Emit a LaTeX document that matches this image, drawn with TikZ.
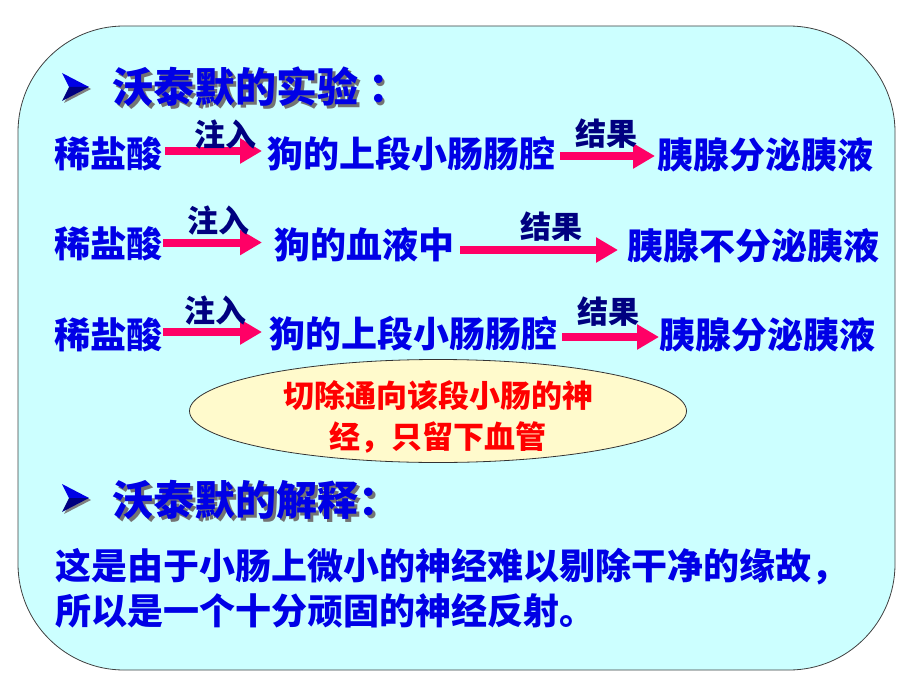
\documentclass[tikz,border=0pt]{standalone}
\usepackage{fontspec}
\setmainfont{Noto Sans CJK SC}
\usetikzlibrary{arrows.meta,shapes.geometric}

\definecolor{boxcyan}{HTML}{CCFFFF}
\definecolor{txtblue}{HTML}{0000E6}
\definecolor{lblnavy}{HTML}{000080}
\definecolor{arrowpink}{HTML}{FF0066}
\definecolor{ovalyellow}{HTML}{FFFACC}
\definecolor{notered}{HTML}{FF0000}

% heading text with a dark drop shadow
\newcommand{\shadowed}[1]{\makebox[0pt][l]{\hspace{2.5pt}\raisebox{-3pt}{\textcolor{black!55}{#1}}}#1}

\tikzset{
    txt/.style={font=\fontsize{36}{43}\selectfont\bfseries, text=txtblue, inner sep=0pt,
        text height=31.7pt, text depth=4.3pt, anchor=west},
    head/.style={font=\fontsize{41}{49}\selectfont\bfseries, text=txtblue, inner sep=0pt,
        text height=36.1pt, text depth=4.9pt, anchor=west},
    lbl/.style={font=\fontsize{31}{37}\selectfont\bfseries, text=lblnavy, inner sep=0pt,
        text height=27.3pt, text depth=3.7pt},
    flow/.style={arrowpink, line width=8pt, -{Triangle[length=22pt,width=24pt]}},
    oval/.style={ellipse, draw=black!80, line width=0.8pt, fill=ovalyellow,
        minimum width=497pt, minimum height=103pt, inner sep=0pt},
    notetxt/.style={font=\fontsize{31}{41}\selectfont\bfseries, text=notered,
        align=center, inner sep=0pt}
}

\begin{document}
\begin{tikzpicture}[x=1pt, y=-1pt]
    \useasboundingbox (0,0) rectangle (920,690);

    % panel
    \draw[draw=black!75, line width=0.8pt, fill=boxcyan, rounded corners=106pt] (18,26) rectangle (895,670);

    % bullets
    \foreach \by in {87, 498} {
        \fill[black!50] (64,\by-12) -- (91,\by+2) -- (64,\by+16) -- (71,\by+2) -- cycle;
        \fill[txtblue] (62,\by-14) -- (89,\by) -- (69,\by) -- cycle;
        \fill[lblnavy] (69,\by) -- (89,\by) -- (62,\by+14) -- cycle;
    }

    % headings
    \node[head] (exp) at (112.5,87) {\shadowed{沃泰默的实验 ：}};
    \node[head] (why) at (112.5,500) {\shadowed{沃泰默的解释：}};

    % row 1
    \node[txt] (acid1) at (54,154) {稀盐酸};
    \node[txt] (gut1) at (267,154) {狗的上段小肠肠腔};
    \node[txt] (res1) at (657,155) {胰腺分泌胰液};
    \draw[flow, shorten <=3pt, shorten >=5pt] ([yshift=3pt]acid1.east) -- ([yshift=3pt]gut1.west)
        node[lbl, pos=0.6, yshift=16pt] (inj1) {注入};
    \draw[flow, shorten <=5pt, shorten >=2pt] ([yshift=-2pt]gut1.east) -- ([yshift=-1pt]res1.west)
        node[lbl, midway, yshift=22pt] (out1) {结果};

    % row 2
    \node[txt] (acid2) at (54,244) {稀盐酸};
    \node[txt] (blood2) at (274,245) {狗的血液中};
    \node[txt] (res2) at (627,246) {胰腺不分泌胰液};
    \draw[flow, shorten <=1pt, shorten >=12pt] ([yshift=1.5pt]acid2.east) -- ([yshift=2.5pt]blood2.west)
        node[lbl, midway, yshift=21.5pt] (inj2) {注入};
    \draw[flow, shorten <=6pt, shorten >=9pt] ([yshift=-5pt]blood2.east) -- ([yshift=-4pt]res2.west)
        node[lbl, pos=0.56, yshift=23pt] (out2) {结果};

    % row 3
    \node[txt] (acid3) at (54,335) {稀盐酸};
    \node[txt] (gut3) at (269,334) {狗的上段小肠肠腔};
    \node[txt] (res3) at (659,335) {胰腺分泌胰液};
    \draw[flow, shorten <=1pt, shorten >=7pt] ([yshift=3pt]acid3.east) -- ([yshift=2pt]gut3.west)
        node[lbl, midway, yshift=21pt] (inj3) {注入};
    \draw[flow, shorten <=5pt, shorten >=0pt] ([yshift=-3pt]gut3.east) -- ([yshift=-2pt]res3.west)
        node[lbl, midway, yshift=25pt] (out3) {结果};

    % note
    \node[oval] (cut) at (438,411) {};
    \node[notetxt] (cutnote) at (438,417) {切除通向该段小肠的神\\经，只留下血管};

    % explanation
    \node[txt, anchor=north west, text height=, text depth=, align=left,
        font=\fontsize{36}{45}\selectfont\bfseries] (expl) at (55,548)
        {这是由于小肠上微小的神经难以剔除干净的缘故，\\所以是一个十分顽固的神经反射。};

\end{tikzpicture}
\end{document}
